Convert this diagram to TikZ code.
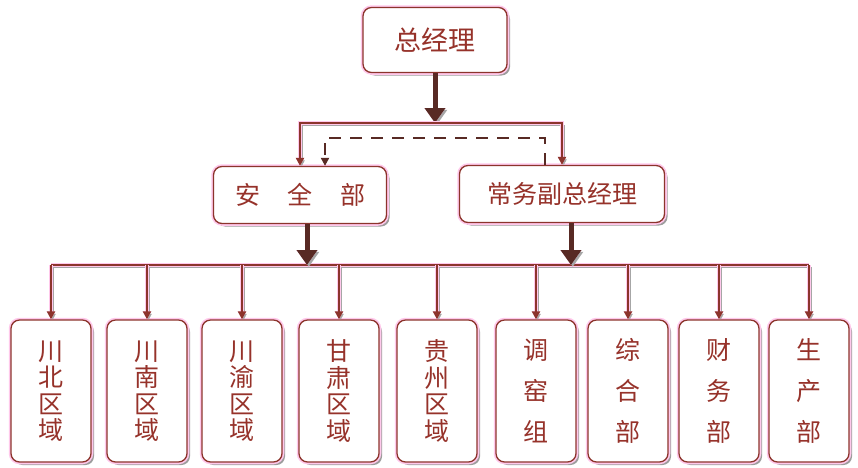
\documentclass[tikz,border=0pt]{standalone}
\usepackage{fontspec}
\newfontfamily\cjk{Noto Sans CJK SC}
\usetikzlibrary{arrows.meta,shadows}
\definecolor{orgline}{RGB}{140,52,44}
\definecolor{orgdark}{RGB}{88,42,36}
\definecolor{orgtext}{RGB}{150,50,42}
\definecolor{orgglow}{RGB}{255,200,235}

\begin{document}
\begin{tikzpicture}[
    x=1pt, y=-1pt,
    every node/.style={font=\cjk, text=orgtext},
    glow/.style={preaction={draw=orgglow, line width=4.5pt}},
    lineshadow/.style={preaction={draw=black!35, transform canvas={shift={(1.8pt,-1.8pt)}}}},
    box/.style={draw=orgline, line width=1.3pt, rounded corners=3mm, fill=white, align=center, inner sep=0pt,
      drop shadow={shadow xshift=3pt, shadow yshift=-3pt, fill=black!45, opacity=0.85}, glow},
    topbox/.style={box, minimum width=144pt, minimum height=65pt, font=\cjk\fontsize{27pt}{30pt}\selectfont},
    midbox/.style={box, minimum height=57pt, font=\cjk\fontsize{25pt}{28pt}\selectfont},
    lowbox/.style={box, minimum width=80pt, minimum height=142pt},
    four/.style={font=\cjk\fontsize{25pt}{26.5pt}\selectfont},
    three/.style={font=\cjk\fontsize{25pt}{41pt}\selectfont},
    link/.style={draw=orgline, line width=2pt, lineshadow, glow},
    arrow/.style={link, -{Triangle[length=8pt,width=8pt]}},
    bigarrow/.style={draw=orgdark, line width=5pt, lineshadow, glow, -{Triangle[length=15pt,width=20pt]}},
    dasharrow/.style={draw=orgdark, line width=2pt, dash pattern=on 12pt off 9pt, -{Triangle[length=8pt,width=8pt]}}
  ]
    \useasboundingbox (0,0) rectangle (858,467);

    \node[topbox] (gm) at (435,40) {总经理};
    \node[midbox, minimum width=173pt] (safe) at (300,195) {安\hspace{1.1em}全\hspace{1.1em}部};
    \node[midbox, minimum width=205pt] (vp) at (562,194) {常务副总经理};

    \foreach \x/\n/\s/\t in {51/b1/four/{川\\北\\区\\域}, 147/b2/four/{川\\南\\区\\域},
        242/b3/four/{川\\渝\\区\\域}, 339/b4/four/{甘\\肃\\区\\域}, 437/b5/four/{贵\\州\\区\\域},
        536/b6/three/{调\\窑\\组}, 628/b7/three/{综\\合\\部}, 719/b8/three/{财\\务\\部},
        809/b9/three/{生\\产\\部}}
      \node[lowbox, \s] (\n) at (\x,391) {\t};

    \coordinate (busA) at (435,123);
    \coordinate (dashL) at (325,138);
    \coordinate (busB) at (440,265);

    % upper level
    \draw[bigarrow] (gm) -- (busA);
    \draw[arrow] (busA) -| (safe.north);
    \draw[arrow] (busA) -| (vp.north);
    \draw[dasharrow] ([xshift=-17pt]vp.north) |- (dashL) -- (dashL |- safe.north);

    % lower level
    \draw[link] (b1.north |- busB) -- (b9.north |- busB);
    \draw[bigarrow] ([xshift=7pt]safe.south) -- ([xshift=7pt]safe.south |- busB);
    \draw[bigarrow] ([xshift=9pt]vp.south) -- ([xshift=9pt]vp.south |- busB);
    \foreach \n in {b1,b2,b3,b4,b5,b6,b7,b8,b9}
      \draw[arrow] (\n.north |- busB) -- (\n.north);
  \end{tikzpicture}
\end{document}
